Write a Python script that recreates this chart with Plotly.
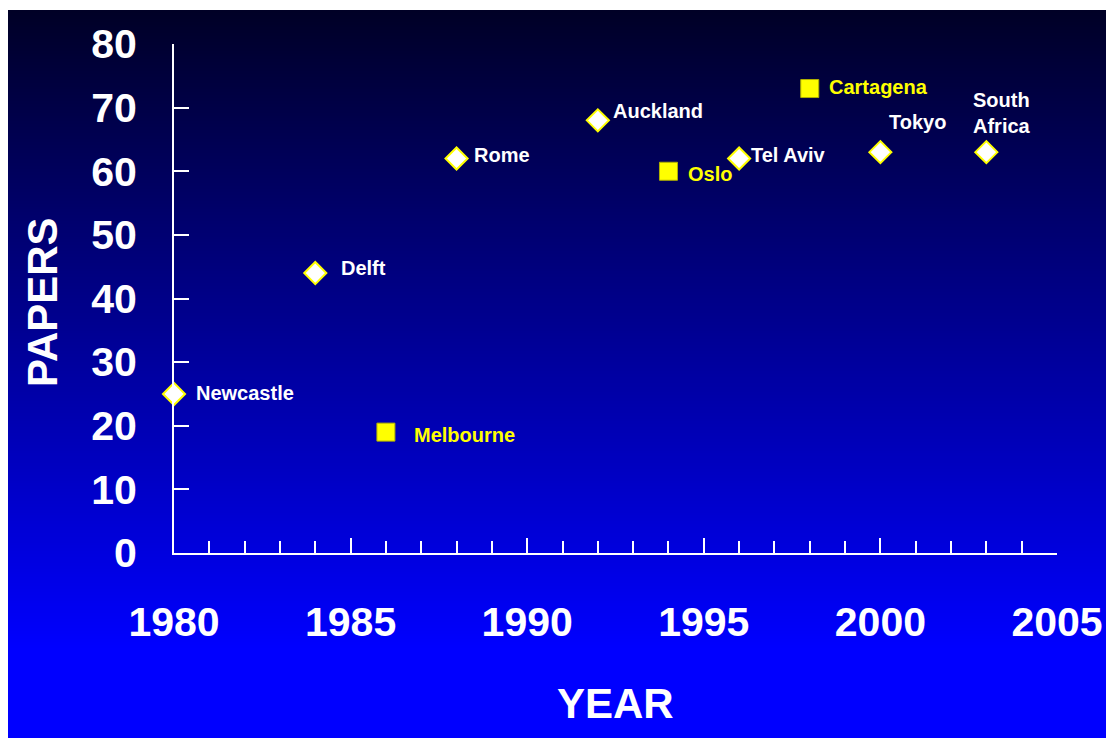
import base64, struct, zlib
import plotly.graph_objects as go

# ---- data ----
diamond_names = ["Newcastle", "Delft", "Rome", "Auckland", "Tel Aviv", "Tokyo", "South<br>Africa"]
diamond_years = [1980, 1984, 1988, 1992, 1996, 2000, 2003]
diamond_papers = [25, 44, 62, 68, 62, 63, 63]

square_names = ["Melbourne", "Oslo", "Cartagena"]
square_years = [1986, 1994, 1998]
square_papers = [19, 60, 73]

x_ticks = [1980, 1985, 1990, 1995, 2000, 2005]
y_ticks = [0, 10, 20, 30, 40, 50, 60, 70, 80]

# label offsets in pixels (xshift, yshift, xanchor)
diamond_offsets = [(20, 1, "left"), (24, 5, "left"), (15, 4, "left"), (13, 9, "left"),
                   (10, 4, "left"), (7, 30, "left"), (16, 39, "center")]
square_offsets = [(26, -3, "left"), (18, -3, "left"), (17, 2, "left")]

W, H = 1106, 738
# plot area in pixels
L, R, T, B = 174, 1057, 44, 553
BG_LEFT, BG_TOP = 8, 10


def gradient_png(h):
    rows = []
    full_px = 640
    for i in range(h):
        py = BG_TOP + i
        f = min(1.0, max(0.0, (py - BG_TOP) / (full_px - BG_TOP)))
        b = int(round(38 + (255 - 38) * f))
        rows.append(b"\x00" + bytes([0, 0, b]) * 4)
    raw = b"".join(rows)

    def chunk(tag, data):
        c = struct.pack(">I", len(data)) + tag + data
        return c + struct.pack(">I", zlib.crc32(tag + data) & 0xffffffff)

    png = b"\x89PNG\r\n\x1a\n"
    png += chunk(b"IHDR", struct.pack(">IIBBBBB", 4, h, 8, 2, 0, 0, 0))
    png += chunk(b"IDAT", zlib.compress(raw, 9))
    png += chunk(b"IEND", b"")
    return "data:image/png;base64," + base64.b64encode(png).decode()


def px_x(sx):
    return (sx - L) / (R - L)


def px_y(sy):
    return (B - sy) / (B - T)


FONT = "Arial, Liberation Sans, sans-serif"

fig = go.Figure()
fig.add_trace(go.Scatter(
    x=diamond_years, y=diamond_papers, mode="markers",
    marker=dict(symbol="diamond", size=17, color="white", line=dict(color="#ffff00", width=2)),
    cliponaxis=False, showlegend=False, hoverinfo="skip"))
fig.add_trace(go.Scatter(
    x=square_years, y=square_papers, mode="markers",
    marker=dict(symbol="square", size=18, color="#ffff00", line=dict(color="#b0b000", width=1)),
    cliponaxis=False, showlegend=False, hoverinfo="skip"))

annotations = []
for name, xv, yv, (dx, dy, anc) in zip(diamond_names, diamond_years, diamond_papers, diamond_offsets):
    annotations.append(dict(x=xv, y=yv, xref="x", yref="y", text="<b>%s</b>" % name,
                            showarrow=False, xanchor=anc, yanchor="middle", xshift=dx, yshift=dy,
                            align="left", font=dict(family=FONT, size=20, color="white")))
for name, xv, yv, (dx, dy, anc) in zip(square_names, square_years, square_papers, square_offsets):
    annotations.append(dict(x=xv, y=yv, xref="x", yref="y", text="<b>%s</b>" % name,
                            showarrow=False, xanchor=anc, yanchor="middle", xshift=dx, yshift=dy,
                            font=dict(family=FONT, size=20, color="#ffff00")))

annotations.append(dict(x=px_x(615), y=px_y(703), xref="paper", yref="paper", text="<b>YEAR</b>",
                        showarrow=False, xanchor="center", yanchor="middle",
                        font=dict(family=FONT, size=42, color="white")))
annotations.append(dict(x=px_x(42), y=px_y(302), xref="paper", yref="paper", text="<b>PAPERS</b>",
                        showarrow=False, xanchor="center", yanchor="middle", textangle=-90,
                        font=dict(family=FONT, size=42, color="white")))

fig.update_layout(
    width=W, height=H,
    margin=dict(l=L, r=W - R, t=T, b=H - B, pad=0, autoexpand=False),
    paper_bgcolor="white",
    plot_bgcolor="rgba(0,0,0,0)",
    images=[dict(source=gradient_png(H), xref="paper", yref="paper",
                 x=px_x(BG_LEFT), y=px_y(BG_TOP), sizex=(W + 10) / (R - L), sizey=(H + 10) / (B - T),
                 xanchor="left", yanchor="top", sizing="stretch", layer="below")],
    annotations=annotations,
    xaxis=dict(range=[1980, 2005], tickvals=x_ticks, ticktext=[str(v) for v in x_ticks],
               automargin=False,
               showgrid=False, zeroline=False, showline=True, linecolor="white", linewidth=2,
               ticks="inside", ticklen=15, tickwidth=2, tickcolor="white",
               minor=dict(dtick=1, tick0=1980, ticks="inside", ticklen=12, tickwidth=2, tickcolor="white", showgrid=False),
               ticklabelstandoff=32,
               tickfont=dict(family=FONT, size=41, color="white", weight="bold")),
    yaxis=dict(range=[0, 80], tickvals=y_ticks, automargin=False,
               showgrid=False, zeroline=False, showline=True, linecolor="white", linewidth=2,
               ticks="inside", ticklen=15, tickwidth=2, tickcolor="white",
               ticklabelstandoff=27,
               tickfont=dict(family=FONT, size=41, color="white", weight="bold")),
)

fig.write_html("out.html", config={"displayModeBar": False},
               post_script="document.body.style.margin='0';document.body.style.overflow='hidden';")
